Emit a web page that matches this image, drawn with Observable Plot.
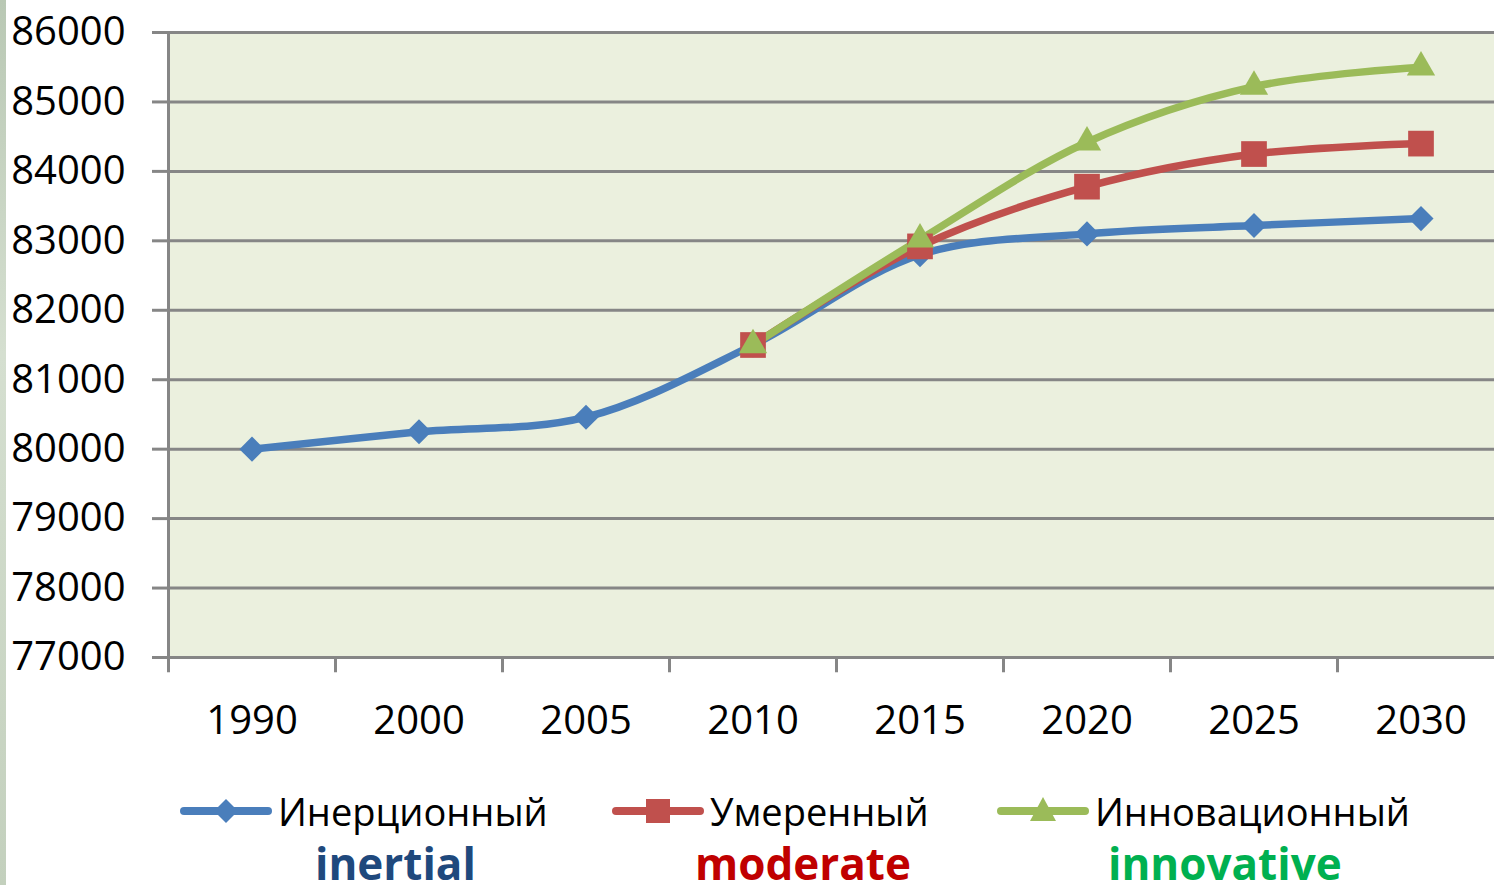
<!DOCTYPE html>
<html>
<head>
<meta charset="utf-8">
<script src="https://cdn.jsdelivr.net/npm/d3@7"></script>
<script src="https://cdn.jsdelivr.net/npm/@observablehq/plot@0.6"></script>
<style>
  html, body { margin: 0; padding: 0; background: #fff; }
  body { width: 1494px; height: 885px; overflow: hidden; position: relative; font-family: "Open Sans", sans-serif; }
  #chart { position: absolute; left: 0; top: 0; }
  #chart svg { max-width: none !important; }
  .leg { position: absolute; display: flex; align-items: center; font-size: 38px; color: #000; white-space: nowrap; }
  .leg svg { margin-right: 6px; }
  .en { position: absolute; font-weight: 700; font-size: 44px; white-space: nowrap; line-height: 0.9; }
  .edge { position: absolute; left: 0; top: 0; width: 6px; height: 885px; background: linear-gradient(#b9c8b4, #d5dfd0 40%, #c3d0bd); }
</style>
</head>
<body>
<div class="edge"></div>
<div id="chart"></div>
<script>
const years = ["1990", "2000", "2005", "2010", "2015", "2020", "2025", "2030"];
const inertial   = [80000, 80250, 80460, 81500, 82800, 83100, 83220, 83320];
const moderate   = [null, null, null, 81500, 82920, 83780, 84250, 84400];
const innovative = [null, null, null, 81500, 83020, 84420, 85220, 85500];
const yTicks = [77000, 78000, 79000, 80000, 81000, 82000, 83000, 84000, 85000, 86000];
const seriesNames = ["Инерционный", "Умеренный", "Инновационный"];
const seriesEn = ["inertial", "moderate", "innovative"];
const colors = ["#4a7ebb", "#c0504d", "#9bbb59"];
const enColors = ["#1f497d", "#c00000", "#00b050"];

const rows = [];
[inertial, moderate, innovative].forEach((arr, s) => {
  arr.forEach((v, i) => { if (v != null) rows.push({series: seriesNames[s], i, year: years[i], value: v}); });
});
const bySeries = s => rows.filter(d => d.series === seriesNames[s]);
const bounds = d3.range(years.length + 1).map(k => k - 0.5);

const chart = Plot.plot({
  width: 1504,
  height: 760,
  marginLeft: 168,
  marginRight: 0,
  marginTop: 32,
  marginBottom: 103,
  style: {fontFamily: "Open Sans, sans-serif", background: "transparent", maxWidth: "none"},
  x: {type: "linear", domain: [-0.5, years.length - 0.5]},
  y: {domain: [77000, 86000]},
  marks: [
    Plot.frame({fill: "#ebf0de", stroke: "none"}),
    Plot.ruleY(yTicks, {stroke: "#868686", strokeWidth: 3}),
    Plot.ruleX([-0.5], {stroke: "#868686", strokeWidth: 3}),
    Plot.ruleX(bounds, {y1: 77000, y2: 76780, stroke: "#868686", strokeWidth: 3}),
    Plot.axisY({ticks: yTicks, tickSize: 16, stroke: "#868686", strokeWidth: 3, tickPadding: 27, fontSize: 40, fill: "#000", tickFormat: d => String(d), label: null}),
    Plot.axisX({ticks: d3.range(years.length), tickSize: 0, tickPadding: 48, fontSize: 40, fill: "#000", tickFormat: i => years[i], label: null}),
    ...[0, 1, 2].map(s => Plot.line(bySeries(s), {x: "i", y: "value", stroke: colors[s], strokeWidth: 7.5, curve: "catmull-rom"})),
    Plot.dot(bySeries(0), {x: "i", y: "value", symbol: "diamond2", r: 11.3, fill: colors[0], stroke: "none"}),
    Plot.dot(bySeries(1), {x: "i", y: "value", symbol: "square", r: 14.5, fill: colors[1], stroke: "none"}),
    Plot.dot(bySeries(2), {x: "i", y: "value", symbol: "triangle", r: 10.5, fill: colors[2], stroke: "none"})
  ]
});
document.getElementById("chart").appendChild(chart);

// legend
const legX = [180, 612, 997];
const enX = [315, 695, 1108];
const sym = [
  c => `<path d="M46 2 L58 14 L46 26 L34 14 Z" fill="${c}"/>`,
  c => `<rect x="34" y="2" width="24" height="24" fill="${c}"/>`,
  c => `<path d="M46 0 L59 24 L33 24 Z" fill="${c}"/>`
];
seriesNames.forEach((name, s) => {
  const div = document.createElement("div");
  div.className = "leg";
  div.style.left = legX[s] + "px";
  div.style.top = "785px";
  div.innerHTML = `<svg width="92" height="28" viewBox="0 0 92 28"><line x1="4" y1="14" x2="88" y2="14" stroke="${colors[s]}" stroke-width="8" stroke-linecap="round"/>${sym[s](colors[s])}</svg><span>${name}</span>`;
  document.body.appendChild(div);
  const en = document.createElement("div");
  en.className = "en";
  en.style.left = enX[s] + "px";
  en.style.top = "844px";
  en.style.color = enColors[s];
  en.textContent = seriesEn[s];
  document.body.appendChild(en);
});
</script>
</body>
</html>
